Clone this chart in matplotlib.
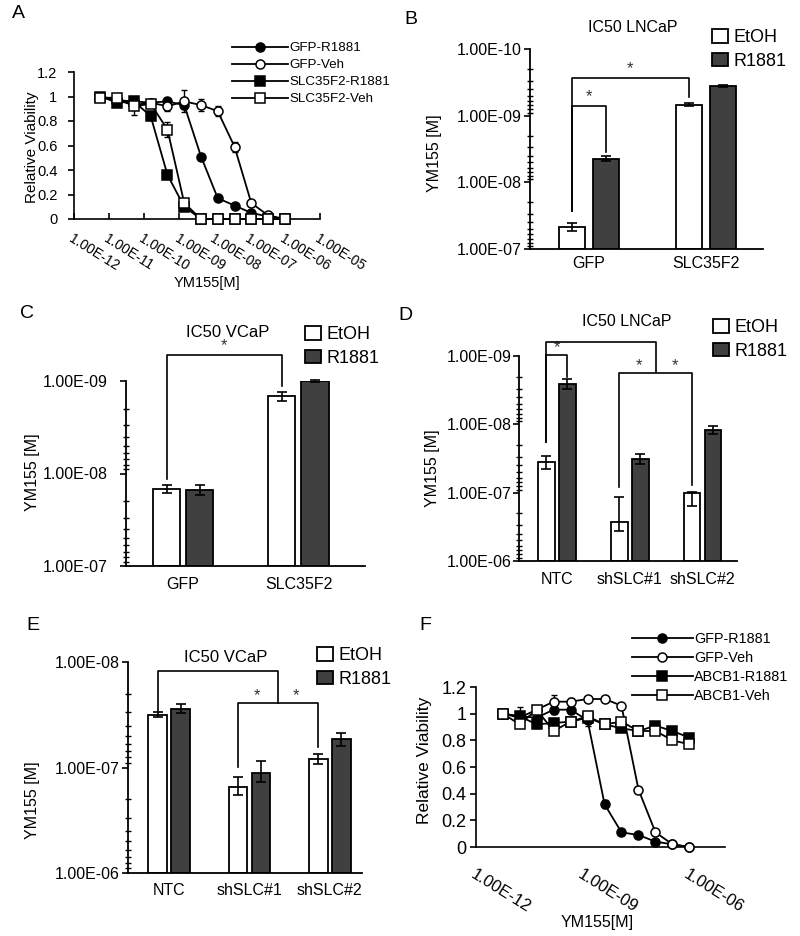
import numpy as np
import matplotlib
matplotlib.use('Agg')
from matplotlib import pyplot as plt
from matplotlib.ticker import FixedLocator, LogLocator, NullFormatter

plt.rcParams['font.family'] = ['Liberation Sans', 'DejaVu Sans']

W, H = 800, 936

# ---- dose response data (panels A and F) ----
conc = [5.65e-12, 1.69e-11, 5.08e-11, 1.52e-10, 4.57e-10, 1.37e-9,
        4.12e-9, 1.23e-8, 3.70e-8, 1.11e-7, 3.33e-7, 1.0e-6]

a_gfp_r1881 = [1.00, 0.97, 0.96, 0.95, 0.96, 0.93, 0.51, 0.17, 0.11, 0.05, 0.02, 0.00]
a_gfp_veh = [1.00, 0.97, 0.93, 0.95, 0.92, 0.96, 0.93, 0.88, 0.59, 0.13, 0.03, 0.00]
a_slc_r1881 = [1.00, 0.95, 0.96, 0.84, 0.36, 0.10, 0.00, 0.00, 0.00, 0.00, 0.00, 0.00]
a_slc_veh = [0.99, 0.99, 0.92, 0.94, 0.73, 0.13, 0.00, 0.00, 0.00, 0.00, 0.00, 0.00]
a_gfp_r1881_err = [0.02, 0.02, 0.02, 0.02, 0.02, 0.03, 0.02, 0.02, 0.01, 0.01, 0.01, 0.00]
a_gfp_veh_err = [0.02, 0.03, 0.03, 0.02, 0.04, 0.09, 0.05, 0.04, 0.04, 0.02, 0.01, 0.00]
a_slc_r1881_err = [0.02, 0.03, 0.02, 0.03, 0.02, 0.02, 0.01, 0.01, 0.01, 0.01, 0.01, 0.00]
a_slc_veh_err = [0.02, 0.03, 0.07, 0.02, 0.06, 0.02, 0.01, 0.01, 0.01, 0.01, 0.01, 0.00]
a_names = ['GFP-R1881', 'GFP-Veh', 'SLC35F2-R1881', 'SLC35F2-Veh']

f_gfp_r1881 = [1.00, 0.98, 0.97, 1.03, 1.03, 0.95, 0.32, 0.11, 0.09, 0.04, 0.02, 0.00]
f_gfp_veh = [1.00, 0.97, 1.03, 1.09, 1.09, 1.11, 1.11, 1.06, 0.43, 0.11, 0.02, 0.00]
f_abcb1_r1881 = [1.00, 0.98, 0.92, 0.93, 0.94, 0.97, 0.92, 0.89, 0.87, 0.91, 0.87, 0.82]
f_abcb1_veh = [1.00, 0.92, 1.03, 0.87, 0.94, 0.98, 0.92, 0.94, 0.87, 0.87, 0.80, 0.77]
f_gfp_r1881_err = [0.03, 0.07, 0.03, 0.03, 0.03, 0.04, 0.03, 0.01, 0.01, 0.01, 0.01, 0.00]
f_gfp_veh_err = [0.03, 0.03, 0.03, 0.05, 0.03, 0.02, 0.02, 0.02, 0.02, 0.02, 0.01, 0.00]
f_abcb1_r1881_err = [0.02, 0.03, 0.03, 0.03, 0.02, 0.02, 0.02, 0.02, 0.02, 0.02, 0.02, 0.02]
f_abcb1_veh_err = [0.02, 0.02, 0.03, 0.02, 0.02, 0.02, 0.02, 0.02, 0.02, 0.02, 0.02, 0.02]
f_names = ['GFP-R1881', 'GFP-Veh', 'ABCB1-R1881', 'ABCB1-Veh']

# ---- IC50 bar data (value, lower bound, upper bound) ----
b_groups = ['GFP', 'SLC35F2']
b_etoh = [4.73e-8, 6.84e-10]
b_etoh_lo = [4.12e-8, 6.5e-10]
b_etoh_hi = [5.31e-8, 7.2e-10]
b_r1881 = [4.42e-9, 3.59e-10]
b_r1881_lo = [4.03e-9, 3.45e-10]
b_r1881_hi = [4.84e-9, 3.75e-10]

c_groups = ['GFP', 'SLC35F2']
c_etoh = [1.47e-8, 1.46e-9]
c_etoh_lo = [1.33e-8, 1.30e-9]
c_etoh_hi = [1.64e-8, 1.63e-9]
c_r1881 = [1.51e-8, 1.01e-9]
c_r1881_lo = [1.34e-8, 0.98e-9]
c_r1881_hi = [1.69e-8, 1.03e-9]

d_groups = ['NTC', 'shSLC#1', 'shSLC#2']
d_etoh = [3.6e-8, 2.66e-7, 1.0e-7]
d_etoh_lo = [2.88e-8, 1.17e-7, 0.97e-7]
d_etoh_hi = [4.5e-8, 3.6e-7, 1.55e-7]
d_r1881 = [2.54e-9, 3.21e-8, 1.21e-8]
d_r1881_lo = [2.15e-9, 2.72e-8, 1.06e-8]
d_r1881_hi = [3.0e-9, 3.8e-8, 1.38e-8]

e_groups = ['NTC', 'shSLC#1', 'shSLC#2']
e_etoh = [3.18e-8, 1.52e-7, 8.26e-8]
e_etoh_lo = [3.0e-8, 1.24e-7, 7.45e-8]
e_etoh_hi = [3.34e-8, 1.82e-7, 9.3e-8]
e_r1881 = [2.79e-8, 1.12e-7, 5.37e-8]
e_r1881_lo = [2.52e-8, 8.7e-8, 4.68e-8]
e_r1881_hi = [3.06e-8, 1.36e-7, 6.25e-8]

fig = plt.figure(figsize=(8, 9.36), dpi=100)


def add_ax(l, t, r, b):
    return fig.add_axes([l / W, 1 - b / H, (r - l) / W, (b - t) / H])


def fig_text(x, y, s, **kw):
    fig.text(x / W, 1 - y / H, s, **kw)


def sci(e):
    return '1.00E' + '{:+03d}'.format(e)


def no_clip(container):
    for art in container.get_children():
        art.set_clip_on(False)


def curve_panel(ax, series, label_exps, tick_len, fs, yfs, lab_pad, leg_xy, leg_fs, leg_hl, ypad, ms):
    lines = []
    for vals, errs, marker, face, name in series:
        ax.errorbar(conc, vals, yerr=errs, fmt='none', ecolor='black', elinewidth=1,
                    capsize=2.5, capthick=1, zorder=2)
        ln, = ax.plot(conc, vals, color='black', lw=1.3, marker=marker, mfc=face, mec='black',
                      mew=1.1, ms=ms, label=name, zorder=3, clip_on=False)
        lines.append(ln)
    ax.set_xscale('log')
    ax.set_xlim(1e-12, 1e-5)
    ax.set_ylim(0, 1.2)
    for s in ['top', 'right']:
        ax.spines[s].set_visible(False)
    for s in ['left', 'bottom']:
        ax.spines[s].set_linewidth(1.2)
    ax.xaxis.set_major_locator(FixedLocator([10.0 ** e for e in label_exps]))
    ax.xaxis.set_minor_locator(FixedLocator([]))
    ax.set_xticklabels([sci(e) for e in label_exps], rotation=-32, ha='left', va='top',
                       rotation_mode='anchor', fontsize=fs)
    ax.tick_params(axis='x', direction='in', length=tick_len, width=1.2, pad=lab_pad)
    ax.set_yticks([0, 0.2, 0.4, 0.6, 0.8, 1.0, 1.2])
    ax.set_yticklabels(['0', '0.2', '0.4', '0.6', '0.8', '1', '1.2'], fontsize=yfs)
    ax.tick_params(axis='y', direction='out', length=4, width=1.2, pad=ypad)
    ax.legend(handles=lines, loc='upper left', bbox_to_anchor=(leg_xy[0] / W, 1 - leg_xy[1] / H),
              bbox_transform=fig.transFigure, frameon=False, fontsize=leg_fs,
              handlelength=leg_hl, handletextpad=0.1, labelspacing=0.35,
              borderpad=0, borderaxespad=0)


def bar_panel(ax, groups, etoh, etoh_lo, etoh_hi, r1881, r_lo, r_hi, ybot, ytop, xlim,
              width, off, ypad, xpad, leg_xy):
    x = np.arange(len(groups))
    etoh = np.array(etoh)
    r1881 = np.array(r1881)
    ax.set_yscale('log')
    b1 = ax.bar(x - off, etoh - ybot, width, bottom=ybot, color='white', edgecolor='black',
                lw=1.3, label='EtOH', zorder=2)
    b2 = ax.bar(x + off, r1881 - ybot, width, bottom=ybot, color='#404040', edgecolor='black',
                lw=1.3, label='R1881', zorder=2)
    eb1 = ax.errorbar(x - off, etoh, yerr=[etoh - np.array(etoh_lo), np.array(etoh_hi) - etoh],
                      fmt='none', ecolor='black', elinewidth=1.2, capsize=3.5, capthick=1.2, zorder=3)
    eb2 = ax.errorbar(x + off, r1881, yerr=[r1881 - np.array(r_lo), np.array(r_hi) - r1881],
                      fmt='none', ecolor='black', elinewidth=1.2, capsize=3.5, capthick=1.2, zorder=3)
    no_clip(eb1)
    no_clip(eb2)
    ax.set_ylim(ybot, ytop)
    ax.set_xlim(*xlim)
    for s in ['top', 'right']:
        ax.spines[s].set_visible(False)
    for s in ['left', 'bottom']:
        ax.spines[s].set_linewidth(1.3)
    exps = range(int(round(np.log10(ytop))), int(round(np.log10(ybot))) + 1)
    ax.yaxis.set_major_locator(FixedLocator([10.0 ** e for e in exps]))
    ax.set_yticklabels([sci(e) for e in exps], fontsize=11.5)
    ax.yaxis.set_minor_locator(LogLocator(base=10, subs=np.arange(2, 10)))
    ax.yaxis.set_minor_formatter(NullFormatter())
    ax.tick_params(axis='y', which='major', direction='out', length=4, width=1.2, pad=ypad)
    ax.tick_params(axis='y', which='minor', direction='inout', length=4, width=1)
    ax.set_xticks(x)
    ax.set_xticklabels(groups, fontsize=11.5)
    ax.tick_params(axis='x', length=0, pad=xpad)
    ax.legend(handles=[b1, b2], loc='upper left', bbox_to_anchor=(leg_xy[0] / W, 1 - leg_xy[1] / H),
              bbox_transform=fig.transFigure, frameon=False, fontsize=13,
              handlelength=0.9, handleheight=0.8, handletextpad=0.3, labelspacing=0.35,
              borderpad=0, borderaxespad=0)


def bracket(ax, x0, x1, y0, ybar, y1):
    ax.plot([x0, x0, x1, x1], [y0, ybar, ybar, y1], color='black', lw=1.2, clip_on=False, zorder=4)


def star(ax, x, y, dy=1.5):
    ax.annotate('*', (x, y), xytext=(0, dy), textcoords='offset points', ha='center',
                va='bottom', fontsize=12, color='#333333', annotation_clip=False)


# ---- A ----
axA = add_ax(74, 72, 320, 219)
curve_panel(axA, [(a_gfp_r1881, a_gfp_r1881_err, 'o', 'black', a_names[0]),
                  (a_gfp_veh, a_gfp_veh_err, 'o', 'white', a_names[1]),
                  (a_slc_r1881, a_slc_r1881_err, 's', 'black', a_names[2]),
                  (a_slc_veh, a_slc_veh_err, 's', 'white', a_names[3])],
            range(-12, -4), 4, 10, 10.5, 9, (232, 42), 9.6, 4.2, 8, 6.5)
fig_text(207, 283, 'YM155[M]', ha='center', va='center', fontsize=10.5)
fig_text(32, 147, 'Relative Viability', ha='center', va='center', rotation=90, fontsize=11)
fig_text(12, 14, 'A', ha='left', va='center', fontsize=14)

# ---- F ----
axF = add_ax(476, 687, 725, 847)
curve_panel(axF, [(f_gfp_r1881, f_gfp_r1881_err, 'o', 'black', f_names[0]),
                  (f_gfp_veh, f_gfp_veh_err, 'o', 'white', f_names[1]),
                  (f_abcb1_r1881, f_abcb1_r1881_err, 's', 'black', f_names[2]),
                  (f_abcb1_veh, f_abcb1_veh_err, 's', 'white', f_names[3])],
            [-12, -9, -6], 0, 12, 13, 14, (632, 632), 10.4, 4.2, 3, 6.5)
fig_text(597, 922, 'YM155[M]', ha='center', va='center', fontsize=11.5)
fig_text(425, 760, 'Relative Viability', ha='center', va='center', rotation=90, fontsize=12.5)
fig_text(419, 625, 'F', ha='left', va='center', fontsize=14)

# ---- B ----
axB = add_ax(530, 49, 763, 249)
bar_panel(axB, b_groups, b_etoh, b_etoh_lo, b_etoh_hi, b_r1881, b_r1881_lo, b_r1881_hi,
          1e-7, 1e-10, (-0.506, 1.49), 0.223, 0.146, 2, 5, (712, 29))
bracket(axB, -0.146, 0.854, 2.69e-8, 2.72e-10, 5.25e-10)
bracket(axB, -0.146, 0.146, 2.69e-8, 7.2e-10, 3.5e-9)
star(axB, 0.354, 2.72e-10)
star(axB, 0.0, 7.2e-10)
fig_text(633, 28, 'IC50 LNCaP', ha='center', va='center', fontsize=11.5)
fig_text(435, 153, 'YM155 [M]', ha='center', va='center', rotation=90, fontsize=11.5)
fig_text(404, 20, 'B', ha='left', va='center', fontsize=14)

# ---- C ----
axC = add_ax(126, 381, 365, 566)
bar_panel(axC, c_groups, c_etoh, c_etoh_lo, c_etoh_hi, c_r1881, c_r1881_lo, c_r1881_hi,
          1e-7, 1e-9, (-0.494, 1.576), 0.234, 0.143, 9, 8, (305, 326))
bracket(axC, -0.143, 0.857, 1.15e-8, 5.24e-10, 1.13e-9)
star(axC, 0.357, 5.24e-10)
fig_text(228, 332, 'IC50 VCaP', ha='center', va='center', fontsize=12)
fig_text(33, 472, 'YM155 [M]', ha='center', va='center', rotation=90, fontsize=11.5)
fig_text(20, 314, 'C', ha='left', va='center', fontsize=14)

# ---- D ----
axD = add_ax(519, 356, 737, 561)
bar_panel(axD, d_groups, d_etoh, d_etoh_lo, d_etoh_hi, d_r1881, d_r1881_lo, d_r1881_hi,
          1e-6, 1e-9, (-0.52, 2.47), 0.226, 0.144, 1, 8, (713, 319))
bracket(axD, -0.144, 1.356, 1.82e-8, 6.2e-10, 1.71e-9)
bracket(axD, 0.856, 1.856, 8.3e-8, 1.78e-9, 7.7e-8)
bracket(axD, -0.144, 0.144, 1.82e-8, 9.7e-10, 2.04e-9)
star(axD, 0.0, 9.7e-10, 0)
star(axD, 1.12, 1.78e-9, 0)
star(axD, 1.62, 1.78e-9, 0)
fig_text(627, 322, 'IC50 LNCaP', ha='center', va='center', fontsize=11.5)
fig_text(432, 468, 'YM155 [M]', ha='center', va='center', rotation=90, fontsize=11.5)
fig_text(398, 315, 'D', ha='left', va='center', fontsize=14)

# ---- E ----
axE = add_ax(128, 662, 362, 873)
bar_panel(axE, e_groups, e_etoh, e_etoh_lo, e_etoh_hi, e_r1881, e_r1881_lo, e_r1881_hi,
          1e-6, 1e-8, (-0.51, 2.40), 0.23, 0.143, 2, 7, (317, 647))
bracket(axE, -0.143, 1.357, 2.98e-8, 1.22e-8, 2.45e-8)
bracket(axE, 0.857, 1.857, 9.9e-8, 2.45e-8, 6.4e-8)
star(axE, 1.09, 2.45e-8, 0)
star(axE, 1.58, 2.45e-8, 0)
fig_text(226, 657, 'IC50 VCaP', ha='center', va='center', fontsize=12)
fig_text(33, 800, 'YM155 [M]', ha='center', va='center', rotation=90, fontsize=11.5)
fig_text(26, 625, 'E', ha='left', va='center', fontsize=14)

fig.savefig('out.png', dpi=100)
